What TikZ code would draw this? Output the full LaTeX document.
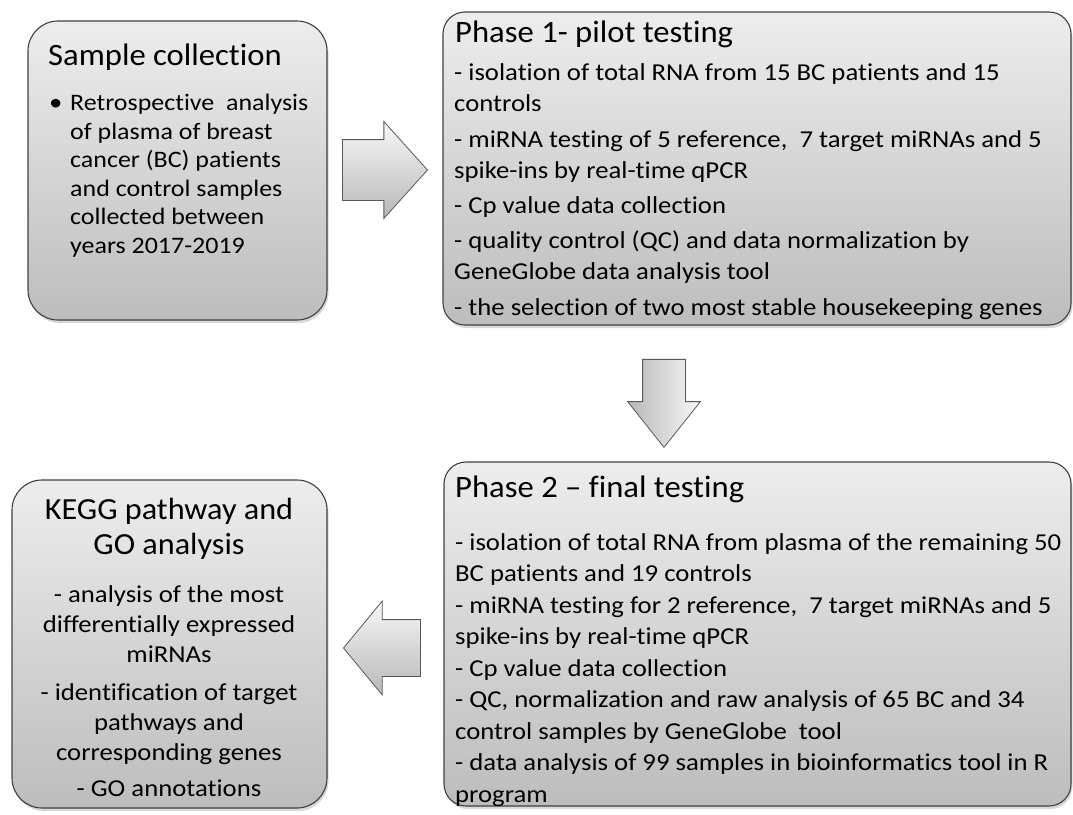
\documentclass[tikz,border=0pt]{standalone}
\usepackage{fontspec}
\setmainfont{Carlito}[Ligatures={TeX,NoCommon}]
\newfontfamily\stagebodyfont{Carlito}[FakeStretch=1.1, Ligatures={TeX,NoCommon}]
\newfontfamily\stagetitlefont{Carlito}[FakeStretch=1.05, Ligatures={TeX,NoCommon}]
\usetikzlibrary{shapes.arrows,shadows,calc,positioning}

\tikzset{
  stagebox/.style={draw=black!75, line width=1.1pt, rounded corners=#1,
    top color=black!7, bottom color=black!26,
    drop shadow={opacity=0.3, shadow xshift=1.5pt, shadow yshift=-3pt}},
  stagebox/.default=28pt,
  titletext/.style={inner sep=0pt, font=\stagetitlefont\fontsize{31.1}{34.7}\selectfont},
  bodytext/.style={inner sep=0pt, font=\stagebodyfont\fontsize{24.3}{31}\selectfont},
  blockarrow/.style={shape=single arrow, draw=black!65, line width=0.8pt,
    single arrow head indent=0pt, inner sep=0pt, text height=0pt, text depth=0pt,
    top color=black!3, bottom color=black!28},
}

\begin{document}
\begin{tikzpicture}[x=1pt, y=-1pt]
\useasboundingbox (0,0) rectangle (1073,814);

% the four stages
\node[stagebox=30pt, minimum width=299pt, minimum height=299pt] (sample) at (177.5,170.5) {};
\node[stagebox=22pt, minimum width=628pt, minimum height=313pt] (phase1) at (757,168.5) {};
\node[stagebox=30pt, minimum width=315pt, minimum height=328pt] (kegg) at (169.5,644) {};
\node[stagebox=22pt, minimum width=627pt, minimum height=344pt] (phase2) at (757.5,634) {};

% block arrows between the stages
\node[blockarrow, anchor=tip, inner ysep=30pt, minimum height=85pt, minimum width=96pt,
  single arrow head extend=18pt, single arrow tip angle=96] (arrow1) at (428,170) {};
\node[blockarrow, anchor=tip, shape border rotate=270, inner xsep=21pt, minimum height=88pt, minimum width=72pt,
  single arrow head extend=15pt, single arrow tip angle=77, left color=black!28, right color=black!3] (arrow2) at (664,448) {};
\node[blockarrow, anchor=tip, shape border rotate=180, inner ysep=28pt, minimum height=77pt, minimum width=93pt,
  single arrow head extend=18.5pt, single arrow tip angle=101] (arrow3) at (343,648) {};

% texts of sample collection (multi-line nodes sit on their last line)
\node[titletext, anchor=base west] (sampletitle) at (48,65.7) {Sample collection};
\node[bodytext, anchor=base west] (samplebullet) at (49,110.5) {\textbullet};
\node[bodytext, anchor=base west, align=left, font=\stagebodyfont\fontsize{23.6}{28.6}\selectfont] (samplebody) at (70,253.5) {Retrospective\ \ analysis\\
of plasma of breast\\
cancer (BC) patients\\
and control samples\\
collected between\\
years 2017-2019};

% texts of phase 1
\node[titletext, anchor=base west] (phase1title) at (455,42.3) {Phase 1- pilot testing};
\node[bodytext, anchor=base west, align=left] (phase1body) at (454,315) {- isolation of total RNA from 15 BC patients and 15\\
controls\\[4.3pt]
- miRNA testing of 5 reference,\ \ 7 target miRNAs and 5\\
spike-ins by real-time qPCR\\[4.3pt]
- Cp value data collection\\[4.3pt]
- quality control (QC) and data normalization by\\
GeneGlobe\ data analysis tool\\[4.3pt]
- the selection of two most stable housekeeping genes};

% texts of KEGG and GO analysis
\node[titletext, anchor=base, align=center, font=\stagetitlefont\fontsize{30.7}{34.7}\selectfont] (keggtitle) at (169,554) {KEGG pathway and\\ GO analysis};
\node[bodytext, anchor=base, align=center, font=\stagebodyfont\fontsize{24.3}{30}\selectfont] (keggbody) at (169,796) {- analysis of the most\\
differentially expressed\\
miRNAs\\[8pt]
- identification of target\\
pathways and\\
corresponding genes\\[6pt]
- GO annotations};

% texts of phase 2
\node[titletext, anchor=base west] (phase2title) at (455,497) {Phase 2 – final testing};
\node[bodytext, anchor=base west, align=left, font=\stagebodyfont\fontsize{24.3}{31.5}\selectfont] (phase2body) at (455,802) {- isolation of total RNA from plasma of the remaining 50\\
BC patients and 19 controls\\
- miRNA testing for 2 reference,\ \ 7 target miRNAs and 5\\
spike-ins by real-time qPCR\\
- Cp value data collection\\
- QC, normalization and raw analysis of 65 BC and 34\\
control samples by GeneGlobe\ \ tool\\
- data analysis of 99 samples in bioinformatics tool in R\\
program};
\end{tikzpicture}
\end{document}
